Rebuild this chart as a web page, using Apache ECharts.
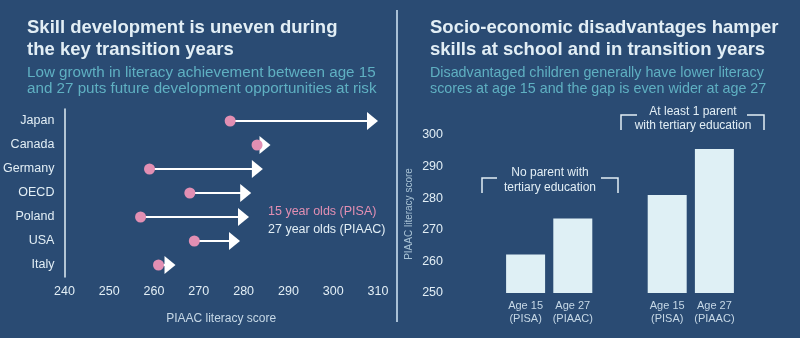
<!DOCTYPE html>
<html><head><meta charset="utf-8">
<script src="https://cdn.jsdelivr.net/npm/echarts@6/dist/echarts.min.js"></script>
<style>html,body{margin:0;padding:0;background:#2a4b73;}#c{width:800px;height:338px;}</style>
</head><body><div id="c"></div>
<script>
// Left chart data
const countries = ['Japan','Canada','Germany','OECD','Poland','USA','Italy'];
const pisa15 = [277, 283, 259, 268, 257, 269, 261];
const piaac27 = [310, 286, 284.3, 281.7, 281.2, 279.2, 264.8];
const leftTicks = [240, 250, 260, 270, 280, 290, 300, 310];
// Right chart data
const barCats = ['Age 15\n(PISA)', 'Age 27\n(PIAAC)', '', 'Age 15\n(PISA)', 'Age 27\n(PIAAC)'];
const barVals = [262.2, 273.6, null, 281, 295.6];
const rightTicks = [250, 260, 270, 280, 290, 300];

const BG = '#2a4b73', LIGHT = '#e2eef5', PINK = '#e28fb3', TEAL = '#5fb0c2', BAR = '#dff0f5';
const FONT = '"Liberation Sans", Arial, sans-serif';

const chart = echarts.init(document.getElementById('c'), null, {renderer: 'canvas'});

const arrowData = countries.map((c, i) => [pisa15[i], piaac27[i], i]);

const option = {
  backgroundColor: BG,
  animation: false,
  textStyle: {fontFamily: FONT},
  title: [
    {text: 'Skill development is uneven during\nthe key transition years', left: 22, top: 12,
     textStyle: {color: LIGHT, fontSize: 18.5, fontWeight: 'bold', lineHeight: 22, fontFamily: FONT}},
    {text: 'Low growth in literacy achievement between age 15\nand 27 puts future development opportunities at risk', left: 22, top: 60,
     textStyle: {color: TEAL, fontSize: 15.2, fontWeight: 'normal', lineHeight: 16, fontFamily: FONT}},
    {text: 'Socio-economic disadvantages hamper\nskills at school and in transition years', left: 425, top: 12,
     textStyle: {color: LIGHT, fontSize: 18.5, fontWeight: 'bold', lineHeight: 22, fontFamily: FONT}},
    {text: 'Disadvantaged children generally have lower literacy\nscores at age 15 and the gap is even wider at age 27', left: 425, top: 60,
     textStyle: {color: TEAL, fontSize: 14.3, fontWeight: 'normal', lineHeight: 16, fontFamily: FONT}}
  ],
  grid: [
    {left: 62, right: 800 - 378, top: 109, bottom: 338 - 277, containLabel: false},
    {left: 502, right: 800 - 738, top: 135, bottom: 338 - 293, containLabel: false}
  ],
  xAxis: [
    {gridIndex: 0, type: 'value', min: 240, max: 310, interval: 10,
     axisLine: {show: false}, axisTick: {show: false}, splitLine: {show: false},
     axisLabel: {color: LIGHT, fontSize: 12.5, margin: 8, customValues: leftTicks},
     name: 'PIAAC literacy score', nameLocation: 'middle', nameGap: 36,
     nameTextStyle: {color: '#c6d8e6', fontSize: 12}},
    {gridIndex: 1, type: 'category', data: barCats,
     axisLine: {show: false}, axisTick: {show: false},
     axisLabel: {color: '#c6d8e6', fontSize: 11, lineHeight: 13, margin: 6, interval: 0}}
  ],
  yAxis: [
    {gridIndex: 0, type: 'category', data: countries, inverse: true,
     axisLine: {show: true, lineStyle: {color: LIGHT, width: 1.5}}, axisTick: {show: false},
     axisLabel: {color: LIGHT, fontSize: 12.5, margin: 10}},
    {gridIndex: 1, type: 'value', min: 250, max: 300, interval: 10,
     axisLine: {show: false}, axisTick: {show: false}, splitLine: {show: false},
     axisLabel: {color: LIGHT, fontSize: 12.5, margin: 59, customValues: rightTicks},
     name: 'PIAAC literacy score', nameLocation: 'middle', nameGap: 88, nameRotate: 90,
     nameTextStyle: {color: '#a9c3d5', fontSize: 10}}
  ],
  series: [
    {type: 'custom', xAxisIndex: 0, yAxisIndex: 0, data: arrowData,
     encode: {x: [0, 1], y: 2},
     renderItem: function (params, api) {
       const s = api.coord([api.value(0), api.value(2)]);
       const e = api.coord([api.value(1), api.value(2)]);
       const head = 11, hh = 9;
       return {type: 'group', children: [
         {type: 'line', shape: {x1: s[0], y1: s[1], x2: e[0] - head + 1, y2: e[1]},
          style: {stroke: '#ffffff', lineWidth: 2.2}},
         {type: 'polygon', shape: {points: [[e[0], e[1]], [e[0] - head, e[1] - hh], [e[0] - head, e[1] + hh]]},
          style: {fill: '#ffffff'}}
       ]};
     }, z: 2},
    {type: 'scatter', xAxisIndex: 0, yAxisIndex: 0, symbolSize: 11,
     data: countries.map((c, i) => [pisa15[i], c]),
     itemStyle: {color: PINK, opacity: 1}, z: 3},
    {type: 'bar', xAxisIndex: 1, yAxisIndex: 1, data: barVals, barWidth: 39,
     itemStyle: {color: BAR}}
  ],
  graphic: [
    {type: 'line', shape: {x1: 397, y1: 10, x2: 397, y2: 322}, style: {stroke: '#a9c0d6', lineWidth: 2}},
    {type: 'text', left: 268, top: 205, style: {text: '15 year olds (PISA)', fill: PINK, fontSize: 12.5, fontFamily: FONT}},
    {type: 'text', left: 268, top: 223, style: {text: '27 year olds (PIAAC)', fill: LIGHT, fontSize: 12.5, fontFamily: FONT}},
    // bracket 1
    {type: 'polyline', shape: {points: [[482, 193], [482, 178], [497, 178]]}, style: {stroke: LIGHT, lineWidth: 1.5, fill: null}},
    {type: 'polyline', shape: {points: [[601, 178], [618, 178], [618, 193]]}, style: {stroke: LIGHT, lineWidth: 1.5, fill: null}},
    {type: 'text', x: 550, y: 180, style: {text: 'No parent with\ntertiary education', fill: LIGHT, fontSize: 12, lineHeight: 15, align: 'center', verticalAlign: 'middle', fontFamily: FONT}},
    // bracket 2
    {type: 'polyline', shape: {points: [[621, 130], [621, 115], [637, 115]]}, style: {stroke: LIGHT, lineWidth: 1.5, fill: null}},
    {type: 'polyline', shape: {points: [[747, 115], [764, 115], [764, 130]]}, style: {stroke: LIGHT, lineWidth: 1.5, fill: null}},
    {type: 'text', x: 693, y: 119, style: {text: 'At least 1 parent\nwith tertiary education', fill: LIGHT, fontSize: 12, lineHeight: 14, align: 'center', verticalAlign: 'middle', fontFamily: FONT}}
  ]
};
chart.setOption(option);
</script>
</body></html>
